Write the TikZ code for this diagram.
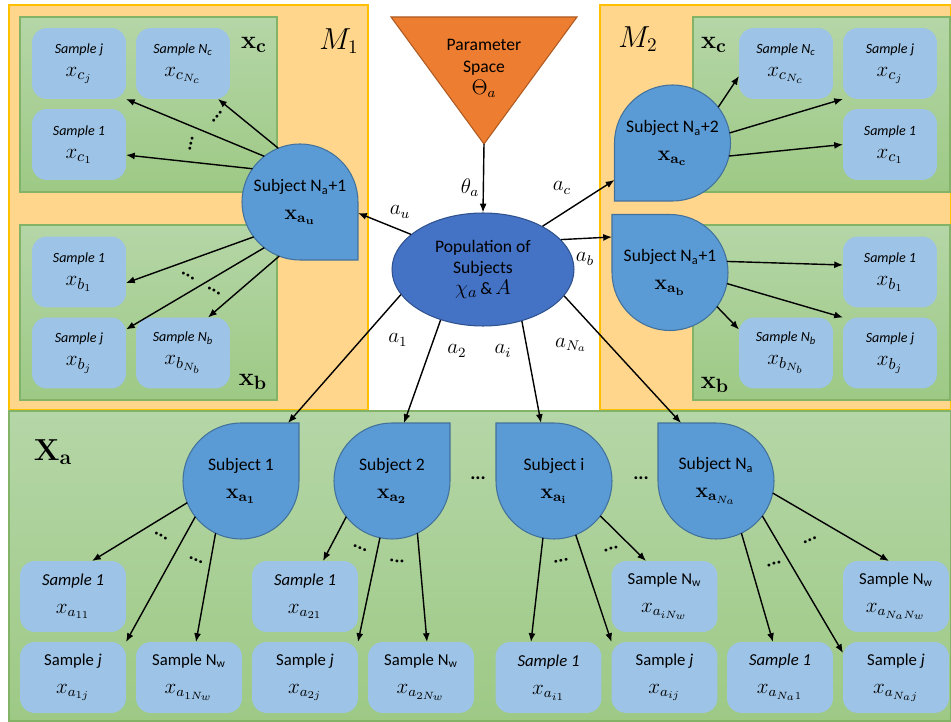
\documentclass[tikz,border=0pt]{standalone}
\usepackage[no-math]{fontspec}
\setmainfont{Carlito}
\usetikzlibrary{arrows.meta,shapes.geometric}

\definecolor{panelorange}{HTML}{FFD68C}
\definecolor{panelline}{HTML}{FFC000}
\definecolor{greentop}{HTML}{B5D6A7}
\definecolor{greenbot}{HTML}{9DC985}
\definecolor{greenline}{HTML}{82B366}
\definecolor{sampleblue}{HTML}{9DC3E6}
\definecolor{subjblue}{HTML}{5B9BD5}
\definecolor{subjline}{HTML}{41719C}
\definecolor{popblue}{HTML}{4472C4}
\definecolor{popline}{HTML}{2F528F}
\definecolor{paramorange}{HTML}{ED7D31}
\definecolor{paramline}{HTML}{AE5A21}

\newcommand{\mx}[2][13]{{\fontsize{#1}{#1}\selectfont$#2$}}
% drop shaped subject: name, centre, angle of the sharp corner, text
\newcommand{\subjectdrop}[4]{%
  \filldraw[drop, rotate around={#3:(#2)}] (#2) ++(1.16cm,0) -- ++(0,1.16cm) -- ++(-1.16cm,0)
    arc[start angle=90, end angle=360, radius=1.16cm] -- cycle;
  \node[subj] (#1) at (#2) {#4};}

\begin{document}
\begin{tikzpicture}[x=0.02cm, y=0.02cm,
  panel/.style={draw=panelline, fill=panelorange, line width=0.6pt},
  greenbox/.style={draw=greenline, top color=greentop, bottom color=greenbot, line width=0.6pt},
  sample/.style={rectangle, rounded corners=0.3cm, fill=sampleblue, minimum width=1.88cm,
    minimum height=1.42cm, inner sep=0pt, outer sep=0pt, align=center, font=\fontsize{8}{13}\selectfont},
  samplewide/.style={sample, minimum width=2.12cm, font=\fontsize{9.5}{16}\selectfont},
  subj/.style={circle, minimum size=2.32cm, inner sep=0pt, outer sep=0pt, align=center,
    font=\fontsize{10}{16}\selectfont},
  drop/.style={fill=subjblue, draw=subjline, line width=0.6pt},
  arr/.style={-{Latex[length=5pt,width=4pt]}, line width=0.8pt},
  lab/.style={font=\fontsize{12}{12}\selectfont, inner sep=0pt},
  dotrow/.style={font=\fontsize{11}{11}\selectfont\bfseries, inner sep=0pt},
]
\useasboundingbox (0,0) rectangle (951,721);
\fill[white] (0,0) rectangle (951,721);

% panels
\draw[panel] (9,311) rectangle (368,716);
\draw[panel] (600,311) rectangle (950.5,716);
\draw[greenbox] (9,0) rectangle (950.5,310);
\draw[greenbox] (20,529) rectangle (277,704);
\draw[greenbox] (20,321) rectangle (277,496);
\draw[greenbox] (693,529) rectangle (950,704);
\draw[greenbox] (693,321) rectangle (950,496);

\node[font=\fontsize{16}{16}\selectfont] (m1) at (339,680) {$M_1$};
\node[font=\fontsize{16}{16}\selectfont] (m2) at (638,682) {$M_2$};
\node[font=\fontsize{15}{15}\selectfont] (lxc) at (254,676) {$\mathbf{x_c}$};
\node[font=\fontsize{15}{15}\selectfont] (lxb) at (253,339) {$\mathbf{x_b}$};
\node[font=\fontsize{15}{15}\selectfont] (rxc) at (714,676) {$\mathbf{x_c}$};
\node[font=\fontsize{15}{15}\selectfont] (rxb) at (715,336) {$\mathbf{x_b}$};
\node[font=\fontsize{18}{18}\selectfont] (xa) at (53,269) {$\mathbf{X_a}$};

% parameter space and population
\filldraw[fill=paramorange, draw=paramline, line width=0.6pt] (391,704) -- (577,704) -- (484,577) -- cycle;
\coordinate (ps-tip) at (484,577);
\node[align=center, font=\fontsize{10}{12.5}\selectfont] (ps) at (484,653) {Parameter\\Space\\\mx[12]{\Theta_a}};
\node[ellipse, fill=popblue, draw=popline, line width=0.6pt, minimum width=3.64cm, minimum height=2.26cm,
  inner sep=0pt, align=center, font=\fontsize{10}{12}\selectfont] (pop) at (483,451.5)
  {Population of\\Subjects\\\mx{\chi_a}\,\&\,\mx{A}};

% samples of x_c and x_b
\node[sample] (Lcj) at (79,657.5) {\textit{Sample j}\\\mx{x_{c_j}}};
\node[sample] (LcN) at (183,657.5) {\textit{Sample N\textsubscript{c}}\\\mx{x_{c_{N_c}}}};
\node[sample] (Lc1) at (79,576.5) {\textit{Sample 1}\\\mx{x_{c_1}}};
\node[sample] (Lb1) at (79,449) {\textit{Sample 1}\\\mx{x_{b_1}}};
\node[sample] (Lbj) at (79,368) {\textit{Sample j}\\\mx{x_{b_j}}};
\node[sample] (LbN) at (183,368) {\textit{Sample N\textsubscript{b}}\\\mx{x_{b_{N_b}}}};
\node[sample] (RcN) at (786,657.5) {\textit{Sample N\textsubscript{c}}\\\mx{x_{c_{N_c}}}};
\node[sample] (Rcj) at (890,657.5) {\textit{Sample j}\\\mx{x_{c_j}}};
\node[sample] (Rc1) at (890,576.5) {\textit{Sample 1}\\\mx{x_{c_1}}};
\node[sample] (Rb1) at (890,449) {\textit{Sample 1}\\\mx{x_{b_1}}};
\node[sample] (RbN) at (786,368) {\textit{Sample N\textsubscript{b}}\\\mx{x_{b_{N_b}}}};
\node[sample] (Rbj) at (890,368) {\textit{Sample j}\\\mx{x_{b_j}}};

% samples of x_a
\node[samplewide] (A11) at (73,124.5) {\textit{Sample 1}\\\mx[12]{x_{a_{11}}}};
\node[samplewide] (A1j) at (73,43.5) {Sample \textit{j}\\\mx[12]{x_{a_{1j}}}};
\node[samplewide] (A1N) at (189,43.5) {Sample N\textsubscript{w}\\\mx[12]{x_{a_{1N_w}}}};
\node[samplewide] (A21) at (305,124.5) {\textit{Sample 1}\\\mx[12]{x_{a_{21}}}};
\node[samplewide] (A2j) at (305,43.5) {Sample \textit{j}\\\mx[12]{x_{a_{2j}}}};
\node[samplewide] (A2N) at (421,43.5) {Sample N\textsubscript{w}\\\mx[12]{x_{a_{2N_w}}}};
\node[samplewide] (Ai1) at (548.5,43.5) {\textit{Sample 1}\\\mx[12]{x_{a_{i1}}}};
\node[samplewide] (AiN) at (664.5,124.5) {Sample N\textsubscript{w}\\\mx[12]{x_{a_{iN_w}}}};
\node[samplewide] (Aij) at (664.5,43.5) {Sample \textit{j}\\\mx[12]{x_{a_{ij}}}};
\node[samplewide] (AN1) at (780,43.5) {\textit{Sample 1}\\\mx[12]{x_{a_{N_a1}}}};
\node[samplewide] (ANN) at (896,124.5) {Sample N\textsubscript{w}\\\mx[12]{x_{a_{N_aN_w}}}};
\node[samplewide] (ANj) at (896,43.5) {Sample \textit{j}\\\mx[12]{x_{a_{N_aj}}}};

% subjects
\subjectdrop{SL}{300,519}{270}{Subject N\textsubscript{a}+1\\\mx[12]{\mathbf{x_{a_u}}}}
\subjectdrop{SRc}{672.5,578}{180}{Subject N\textsubscript{a}+2\\\mx[12]{\mathbf{x_{a_c}}}}
\subjectdrop{SRb}{670,448.5}{90}{Subject N\textsubscript{a}+1\\\mx[12]{\mathbf{x_{a_b}}}}
\subjectdrop{S1}{241,240}{0}{Subject 1\\\mx[12]{\mathbf{x_{a_1}}}}
\subjectdrop{S2}{392,240}{0}{Subject 2\\\mx[12]{\mathbf{x_{a_2}}}}
\subjectdrop{Si}{554,240}{90}{Subject i\\\mx[12]{\mathbf{x_{a_i}}}}
\subjectdrop{SN}{716,240}{90}{Subject N\textsubscript{a}\\\mx[12]{\mathbf{x}_{\mathbf{a}_{N_a}}}}

% population to subjects
\draw[arr] (ps-tip) -- (pop.north);
\draw[arr] (pop.154.5) -- ([yshift=-0.22cm]SL.east);
\draw[arr] (pop.36.6) -- ([yshift=-0.74cm]SRc.west);
\draw[arr] (pop.21.5) -- ([yshift=0.71cm]SRb.west);
\draw[arr] (pop.197.7) -- ([xshift=0.94cm]S1.north);
\draw[arr] (pop.230.5) -- ([xshift=0.24cm]S2.north);
\draw[arr] (pop.307.3) -- ([xshift=-0.26cm]Si.north);
\draw[arr] (pop.342.9) -- ([xshift=-0.7cm]SN.north);

\node[lab] (l-theta) at (470,533) {$\theta_a$};
\node[lab] (l-au) at (400,509) {$a_u$};
\node[lab] (l-ac) at (562,533) {$a_c$};
\node[lab] (l-ab) at (585,462) {$a_b$};
\node[lab] (l-a1) at (398,381) {$a_1$};
\node[lab] (l-a2) at (457,370) {$a_2$};
\node[lab] (l-ai) at (503,370) {$a_i$};
\node[lab] (l-aN) at (571,376) {$a_{N_a}$};

% subjects to samples
\draw[arr] (SL.145) -- ([yshift=-0.21cm]Lc1.east);
\draw[arr] (SL.128) -- (Lcj.south east);
\draw[arr] (SL.112) -- ([xshift=0.7cm]LcN.south);
\draw[arr] (SL.217) -- ([yshift=-0.22cm]Lb1.east);
\draw[arr] (SL.232) -- ([yshift=-0.24cm]Lbj.north east);
\draw[arr] (SL.249) -- ([xshift=0.5cm]LbN.north);
\draw[arr] (SRc.38) -- ([yshift=-0.25cm]RcN.west);
\draw[arr] (SRc.10) -- (Rcj.south west);
\draw[arr] (SRc.-13) -- (Rc1.west);
\draw[arr] (SRb.11) -- ([yshift=0.14cm]Rb1.west);
\draw[arr] (SRb.-11) -- (Rbj.north west);
\draw[arr] (SRb.-36) -- ([yshift=-0.24cm]RbN.north west);
\draw[arr] (S1.202) -- ([xshift=0.38cm]A11.north);
\draw[arr] (S1.218) -- (A1j.north east);
\draw[arr] (S1.244) -- ([xshift=0.14cm]A1N.north);
\draw[arr] (S2.218) -- ([xshift=0.36cm]A21.north);
\draw[arr] (S2.258) -- (A2j.north east);
\draw[arr] (S2.296) -- ([xshift=0.12cm]A2N.north);
\draw[arr] (Si.259) -- ([xshift=-0.35cm]Ai1.north);
\draw[arr] (Si.292) -- (Aij.north west);
\draw[arr] (Si.323) -- ([xshift=-0.37cm]AiN.north);
\draw[arr] (SN.296) -- ([xshift=-0.14cm]AN1.north);
\draw[arr] (SN.323) -- ([yshift=-0.22cm]ANj.north west);
\draw[arr] (SN.348) -- ([xshift=-0.14cm]ANN.north);

% dots
\node[dotrow, rotate=77] (d-c1) at (191,577) {...};
\node[dotrow, rotate=50] (d-c2) at (217,604) {...};
\node[dotrow, rotate=-28] (d-b1) at (188,445) {...};
\node[dotrow, rotate=-28] (d-b2) at (214,430) {...};
\node[dotrow, rotate=-28] (d-11) at (161,185) {...};
\node[dotrow, rotate=-20] (d-12) at (196,161) {...};
\node[dotrow, rotate=-20] (d-21) at (360,173) {...};
\node[dotrow, rotate=-5] (d-22) at (397,160) {...};
\node[dotrow, rotate=10] (d-i1) at (561,160) {...};
\node[dotrow, rotate=15] (d-i2) at (611,172) {...};
\node[dotrow, rotate=15] (d-N1) at (774,157) {...};
\node[dotrow, rotate=25] (d-N2) at (810,181) {...};
\node[dotrow] (d-s1) at (478,243) {...};
\node[dotrow] (d-s2) at (641,243) {...};
\end{tikzpicture}
\end{document}
